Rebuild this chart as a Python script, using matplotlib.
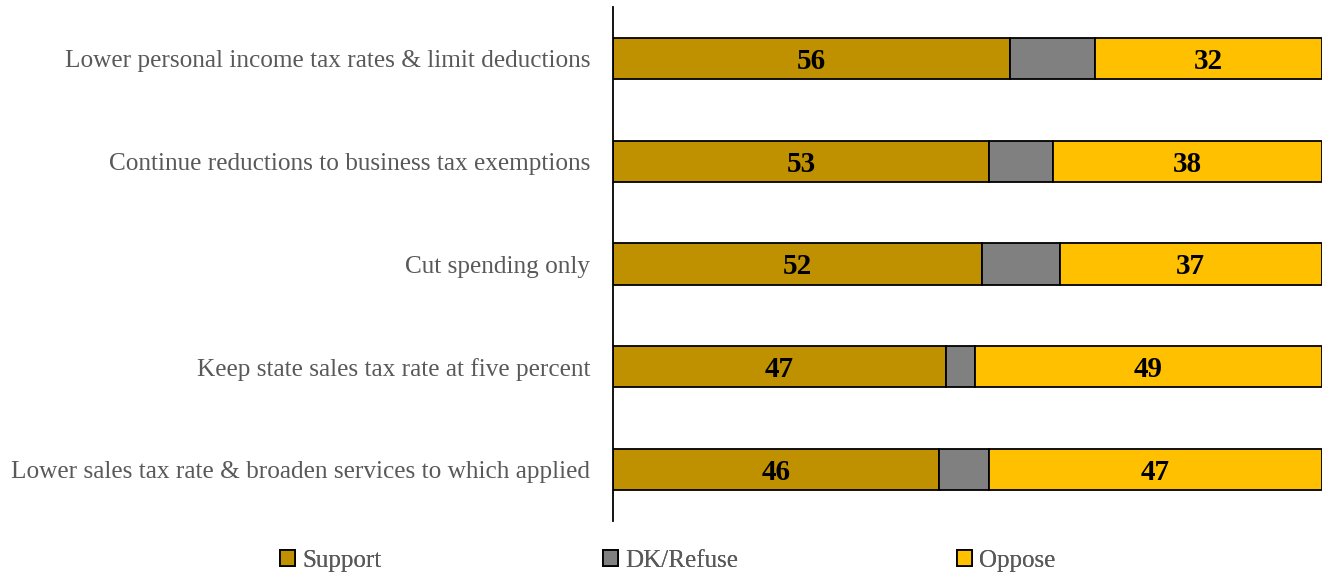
import matplotlib.pyplot as plt

# proposals, top to bottom as in the reference
proposals = [
    "Lower personal income tax rates & limit deductions",
    "Continue reductions to business tax exemptions",
    "Cut spending only",
    "Keep state sales tax rate at five percent",
    "Lower sales tax rate & broaden services to which applied",
]
support = [56, 53, 52, 47, 46]
dk_refuse = [12, 9, 11, 4, 7]
oppose = [32, 38, 37, 49, 47]

series_names = ["Support", "DK/Refuse", "Oppose"]
series_colors = ["#BF9000", "#808080", "#FFC000"]

plt.rcParams["font.family"] = ["Liberation Serif", "DejaVu Serif"]

W, H = 1322, 575
fig = plt.figure(figsize=(W / 100, H / 100), dpi=100)
ax = fig.add_axes([613 / W, 54 / H, 709 / W, 514 / H])

y = list(range(len(proposals)))
left = [0] * len(proposals)
bars = []
for name, vals, color in zip(series_names, [support, dk_refuse, oppose], series_colors):
    b = ax.barh(y, vals, left=left, height=0.4, color=color, edgecolor="black",
                linewidth=1.3, label=name)
    bars.append(b)
    if name != "DK/Refuse":
        for yi, l, v in zip(y, left, vals):
            ax.text(l + v / 2, yi, str(v), ha="center", va="center_baseline",
                    fontsize=21, fontweight="bold", color="black")
    left = [l + v for l, v in zip(left, vals)]

ax.set_xlim(0, 100)
ax.set_ylim(len(proposals) - 0.5, -0.5)
ax.set_yticks(y)
ax.set_yticklabels(proposals, fontsize=18.2, color="#595959")
ax.tick_params(axis="y", length=0, pad=16.5)
ax.set_xticks([])
for side in ["top", "right", "bottom"]:
    ax.spines[side].set_visible(False)
ax.spines["left"].set_linewidth(1.3)

# one legend entry per series, placed where the reference has them
legend_x = [280, 603, 957]
for b, name, lx in zip(bars, series_names, legend_x):
    leg = fig.legend(handles=[b], labels=[name], loc="center left",
                     bbox_to_anchor=(lx / W, 1 - 561 / H), frameon=False,
                     fontsize=18, handlelength=0.6, handleheight=0.6,
                     handletextpad=0.3, borderpad=0, borderaxespad=0,
                     labelcolor="#595959")
    fig.add_artist(leg)

fig.savefig("out.png", dpi=100)
